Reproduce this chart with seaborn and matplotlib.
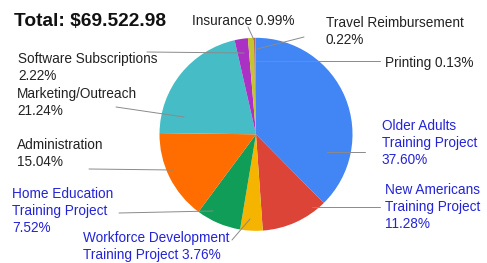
import matplotlib
matplotlib.use("Agg")
import matplotlib.pyplot as plt
from matplotlib.lines import Line2D
import seaborn as sns

# ── Data ──────────────────────────────────────────────────────────────────────
TOTAL = "$69.522.98"
categories = ["Older Adults\nTraining Project", "New Americans\nTraining Project",
              "Workforce Development\nTraining Project", "Home Education\nTraining Project",
              "Administration", "Marketing/Outreach", "Software Subscriptions",
              "Insurance", "Travel Reimbursement", "Printing"]
shares = [37.60, 11.28, 3.76, 7.52, 15.04, 21.24, 2.22, 0.99, 0.22, 0.13]
colors = ["#4285F4", "#DB4437", "#F4B400", "#0F9D58", "#FF6D00",
          "#46BDC6", "#AB30C4", "#C3C52C", "#B5655A", "#EC5F8A"]
is_project = [True, True, True, True, False, False, False, False, False, False]

# ── Theme ─────────────────────────────────────────────────────────────────────
sns.set_theme(style="white")
plt.rcParams["font.family"] = ["Liberation Sans", "DejaVu Sans"]
BLUE_TXT = "#2424D6"
DARK_TXT = "#222222"
LEADER = "#8A8A8A"

W, H = 487, 263
fig = plt.figure(figsize=(W / 100, H / 100), dpi=100)

def fx(x):
    return x / W

def fy(y):
    return 1 - y / H

# pie box: centre (256, 134) px, radius ~96.5 px
cx, cy, r = 256, 134.3, 96.5
ax = fig.add_axes([fx(cx - r), fy(cy + r), 2 * r / W, 2 * r / H])
ax.pie(shares, colors=colors, startangle=90, counterclock=False,
       wedgeprops={"linewidth": 0})
ax.set_xlim(-1, 1)
ax.set_ylim(-1, 1)
ax.axis("off")

# ── Labels (layout in pixels: left x, last-line baseline y) ──────────────────
label_pos = [(382, 164.3), (385, 228.3), (83, 259.3), (12, 232.3),
             (17, 166), (17, 115.3), (18, 80), (192, 25), (326, 43.7), (385, 66.7)]
single_line = {"Insurance", "Printing",
               "Workforce Development\nTraining Project"}

for name, val, proj, (lx, ly) in zip(categories, shares, is_project, label_pos):
    sep = " " if name in single_line else "\n"
    txt = f"{name}{sep}{val:.2f}%"
    fig.text(fx(lx), fy(ly), txt, ha="left", va="baseline", fontsize=9.8,
             linespacing=1.27, color=BLUE_TXT if proj else DARK_TXT)

# leader lines: (outer px) -> (inner px)
leaders = [((365, 152), (327, 152)), ((380, 207), (312, 207)),
           ((232, 240), (250, 219)), ((119, 213), (213, 211)),
           ((89, 169), (173, 170)), ((116, 107), (184, 117)),
           ((147, 52), (244, 53)), ((248, 27), (254, 40)),
           ((304, 37), (257, 49)), ((380, 61), (256, 61))]
for (x0, y0), (x1, y1) in leaders:
    fig.add_artist(Line2D([fx(x0), fx(x1)], [fy(y0), fy(y1)],
                          transform=fig.transFigure, color=LEADER, lw=0.7))

fig.text(fx(14), fy(26), f"Total: {TOTAL}", ha="left", va="baseline",
         fontsize=13.8, fontweight="bold", color="#111111")

fig.savefig("out.png", dpi=100, facecolor="white")
